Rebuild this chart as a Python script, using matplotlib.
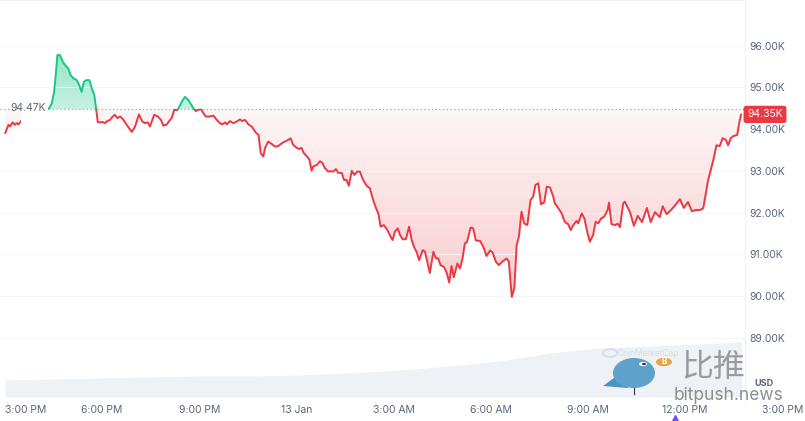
import numpy as np
import matplotlib
matplotlib.use("Agg")
import matplotlib.pyplot as plt
from matplotlib.patches import Rectangle, Ellipse, Circle, Polygon
from matplotlib.colors import to_rgb
from matplotlib.transforms import blended_transform_factory

# ---------------- data (hours since 12 Jan 00:00, price in USD) ----------------
times = [15.01,15.11,15.16,15.24,15.31,15.37,15.42,15.50,16.37,16.45,
         16.52,16.58,16.62,16.70,16.79,16.86,16.96,17.03,17.11,17.22,
         17.29,17.37,17.44,17.51,17.61,17.68,17.76,17.81,17.87,17.94,
         18.01,18.09,18.16,18.25,18.33,18.40,18.47,18.56,18.66,18.76,
         18.92,19.02,19.14,19.24,19.33,19.41,19.48,19.61,19.72,19.82,
         19.89,20.00,20.10,20.15,20.23,20.31,20.35,20.46,20.56,20.66,
         20.77,20.82,20.89,20.97,21.06,21.13,21.20,21.33,21.44,21.54,
         21.64,21.71,21.80,21.85,21.95,22.05,22.16,22.26,22.33,22.41,
         22.52,22.62,22.76,22.83,22.90,22.98,23.03,23.13,23.24,23.34,
         23.44,23.55,23.65,23.75,23.82,23.90,24.01,24.09,24.16,24.23,
         24.32,24.40,24.47,24.52,24.63,24.73,24.81,24.88,24.99,25.07,
         25.14,25.22,25.29,25.40,25.47,25.55,25.62,25.71,25.79,25.88,
         25.96,26.06,26.17,26.27,26.37,26.46,26.53,26.60,26.70,26.81,
         26.91,26.97,27.04,27.13,27.20,27.28,27.38,27.48,27.56,27.63,
         27.71,27.79,27.90,27.97,28.04,28.12,28.23,28.31,28.38,28.45,
         28.56,28.64,28.72,28.79,28.86,28.97,29.05,29.13,29.20,29.27,
         29.38,29.46,29.54,29.67,29.77,29.87,29.98,30.06,30.16,30.25,
         30.35,30.49,30.56,30.65,30.73,30.80,30.87,30.95,31.03,31.13,
         31.23,31.31,31.38,31.47,31.55,31.65,31.73,31.83,31.93,31.98,
         32.09,32.19,32.29,32.39,32.47,32.55,32.65,32.70,32.81,32.89,
         32.99,33.06,33.16,33.24,33.32,33.40,33.50,33.61,33.65,33.73,
         33.83,33.92,33.99,34.09,34.14,34.30,34.42,34.54,34.67,34.82,
         34.94,35.07,35.22,35.31,35.43,35.59,35.72,35.84,35.96,36.09,
         36.21,36.33,36.46,36.56,36.71,36.87,36.97,37.07,37.16,37.26,
         37.33,37.41,37.49,37.61,37.67,37.73]

prices = [93900,94100,94060,94160,94100,94140,94110,94190,94500,94620,
          94890,95370,95770,95770,95610,95530,95450,95290,95220,95170,
          95060,94890,95130,95170,95170,94980,94820,94530,94160,94160,
          94170,94140,94190,94220,94300,94340,94260,94300,94220,94100,
          93930,94060,94350,94180,94140,94160,94060,94340,94300,94220,
          94080,94110,94220,94260,94460,94450,94480,94650,94770,94700,
          94560,94500,94430,94460,94470,94380,94300,94300,94320,94220,
          94140,94110,94160,94110,94190,94140,94180,94230,94190,94220,
          94110,94060,93900,93860,93420,93340,93540,93700,93640,93580,
          93590,93660,93700,93740,93780,93620,93550,93520,93550,93420,
          93350,93270,93000,93100,93140,93230,93180,93060,92980,92990,
          92980,93040,92950,92950,92780,92780,92640,93000,92900,92980,
          92980,92780,92640,92580,92300,92100,91980,91660,91700,91580,
          91420,91340,91540,91620,91460,91360,91360,91660,91340,91180,
          91060,90860,91100,91060,90820,90550,91060,90900,90900,90740,
          90690,90560,90320,90720,90450,90780,90660,90900,91260,91300,
          91640,91620,91330,91320,91180,90960,91090,91040,90820,90740,
          90820,90900,90820,89980,90190,91220,91420,92020,91740,91700,
          92300,92380,92660,92700,92200,92240,92620,92600,92380,92220,
          92100,91980,91770,91720,91580,91700,91800,91740,91980,91860,
          91500,91300,91460,91780,91740,91850,91900,92060,92240,91720,
          91700,91730,91650,92220,92260,92010,91680,91920,91770,92110,
          91770,92010,91890,92150,91960,92080,92200,92320,92110,92250,
          92030,92060,92060,92100,92770,93250,93610,93590,93780,93740,
          93610,93780,93830,93860,94140,94350]

open_price = 94470
last_price = 94350

vol_times = [15.0, 16.4, 17.94, 19.48, 21.02, 22.57, 24.11, 25.65, 27.2,
             28.74, 30.28, 31.83, 33.37, 34.91, 36.46, 37.75]
vol_values = [17, 18, 19, 20, 21, 21, 22, 24, 27, 31, 36, 44, 49, 51, 53, 55]

y_ticks = [89000, 90000, 91000, 92000, 93000, 94000, 95000, 96000]
y_labels = ["89.00K", "90.00K", "91.00K", "92.00K", "93.00K", "94.00K", "95.00K", "96.00K"]
x_ticks = [15, 18, 21, 24, 27, 30, 33, 36, 39]
x_labels = ["3:00 PM", "6:00 PM", "9:00 PM", "13 Jan", "3:00 AM", "6:00 AM",
            "9:00 AM", "12:00 PM", "3:00 PM"]

# ---------------- style ----------------
RED = "#ea3943"
GREEN = "#16c784"
GREY = "#58667e"
FONT = ["Inter", "DejaVu Sans"]
plt.rcParams["font.family"] = FONT

t = np.array(times)
p = np.array(prices, dtype=float)

W, H = 805, 421
fig = plt.figure(figsize=(W / 100, H / 100), dpi=100)
fig.patch.set_facecolor("white")

ax_right_px = 745
ax_bottom_px = 400
ax = fig.add_axes([0, (H - ax_bottom_px) / H, ax_right_px / W, ax_bottom_px / H])
ax2 = fig.add_axes(ax.get_position(), sharex=ax)
ax2.set_zorder(1)
ax.set_zorder(2)
ax.patch.set_visible(False)

XMIN, XMAX = 14.85, 37.85
YMIN, YMAX = 87510, 97090

# volume area
ax2.fill_between(vol_times, 0, vol_values, color="#eef1f5", lw=0)
ax2.set_ylim(-3, 397)
ax2.axis("off")


def gradient_fill(x, ylow, yhigh, color, a_bottom, a_top, zorder):
    poly = ax.fill_between(x, ylow, yhigh, facecolor="none", edgecolor="none")
    path = poly.get_paths()[0]
    rgb = to_rgb(color)
    n = 256
    img = np.zeros((n, 1, 4))
    img[:, :, :3] = rgb
    img[:, 0, 3] = np.linspace(a_bottom, a_top, n)
    lo, hi = np.min(ylow), np.max(yhigh)
    im = ax.imshow(img, aspect="auto", origin="lower",
                   extent=[x.min(), x.max(), lo, hi], zorder=zorder,
                   interpolation="bilinear")
    im.set_clip_path(path, transform=ax.transData)


# red area below open, green above
gradient_fill(t, np.minimum(p, open_price), np.full_like(p, open_price), RED, 0.26, 0.05, 1)
gradient_fill(t, np.full_like(p, open_price), np.maximum(p, open_price), GREEN, 0.25, 0.45, 1)

# faint grid
for yv in y_ticks:
    ax.axhline(yv, color="#f4f5f7", lw=0.8, zorder=2)

# baseline
ax.axhline(open_price, color="#a3a8b0", lw=0.9, ls=(0, (1, 2)), zorder=3)

# split-colored line
lr, = ax.plot(t, p, color=RED, lw=1.4, zorder=5, solid_joinstyle="round", solid_capstyle="round")
lg, = ax.plot(t, p, color=GREEN, lw=1.4, zorder=5, solid_joinstyle="round", solid_capstyle="round")
clip_r = Rectangle((XMIN, YMIN), XMAX - XMIN, open_price - YMIN, transform=ax.transData)
clip_g = Rectangle((XMIN, open_price), XMAX - XMIN, YMAX - open_price, transform=ax.transData)
lr.set_clip_path(clip_r)
lg.set_clip_path(clip_g)

ax.set_xlim(XMIN, XMAX)
ax.set_ylim(YMIN, YMAX)

# open price label with white box
ax.add_patch(Rectangle((15.51, 94150), 16.33 - 15.51, 94760 - 94150,
                       facecolor="white", edgecolor="none", zorder=6))
ax.text(15.16, open_price + 30, "94.47K", color="#5f6672", fontsize=7.5,
        va="center", ha="left", zorder=7)

# y axis on right
ax.yaxis.tick_right()
ax.set_yticks(y_ticks)
ax.set_yticklabels(y_labels)
ax.tick_params(axis="y", length=0, pad=3, labelsize=7.5, labelcolor=GREY)
ax.set_xticks([])
for side in ["left", "bottom"]:
    ax.spines[side].set_visible(False)
ax.spines["right"].set_color("#f0f1f3")
ax.spines["top"].set_color("#f0f1f3")
ax.spines["right"].set_linewidth(0.8)
ax.spines["top"].set_linewidth(0.8)

# x labels
bt = blended_transform_factory(ax.transData, ax.transAxes)
for i, (xv, lab) in enumerate(zip(x_ticks, x_labels)):
    ha = "left" if i == 0 else "center"
    ax.text(xv, -0.025, lab, transform=bt, ha=ha, va="center", fontsize=7.5,
            color=GREY, clip_on=False)

# last price tag
ax.text(765 / 745, last_price, "94.35K", transform=blended_transform_factory(ax.transAxes, ax.transData),
        ha="center", va="center", color="white", fontsize=7.5, zorder=8, clip_on=False,
        bbox=dict(boxstyle="round,pad=0.35,rounding_size=0.25", facecolor=RED, edgecolor="none"))

# small event marker
ax.plot([35.7], [-0.045], marker="^", color="#6f4cff", ms=4, transform=bt, clip_on=False)

# USD label
fig.text(764 / W, 1 - 384 / H, "USD", ha="center", va="center", fontsize=6.5,
         color=GREY, fontweight="bold", zorder=12)

# ---------------- watermark ----------------
def fx(x):
    return x / W

def fy(y):
    return 1 - y / H

fig.text(fx(618), fy(353), "CoinMarketCap", fontsize=6, color="#d5dae2",
         ha="left", va="center", zorder=9)
fig.patches.append(Circle((fx(610), fy(353)), 0.009, transform=fig.transFigure,
                          facecolor="none", edgecolor="#d5dae2", lw=1.2, zorder=9))
fig.text(fx(713), fy(367), "比推", fontsize=23, color="#9b9b9b",
         family=["Noto Sans CJK SC", "DejaVu Sans"], ha="center", va="center",
         style="italic", zorder=10)
fig.text(fx(728), fy(396), "bitpush.news", fontsize=12.5, color="#8e8e8e",
         ha="center", va="center", zorder=10)
# bird
body = Ellipse((fx(634), fy(373)), 42 / W, 30 / H, angle=0, transform=fig.transFigure,
               facecolor="#5ea2cc", edgecolor="none", zorder=10)
tail = Polygon([(fx(603), fy(386)), (fx(622), fy(372)), (fx(628), fy(388))], closed=True,
               transform=fig.transFigure, facecolor="#4e93be", edgecolor="none", zorder=10)
eye = Circle((fx(643), fy(364)), 4 / W, transform=fig.transFigure,
             facecolor="white", edgecolor="none", zorder=11)
pupil = Circle((fx(644), fy(364)), 2 / W, transform=fig.transFigure,
               facecolor="#222222", edgecolor="none", zorder=12)
coin = Circle((fx(664), fy(362)), 8 / W, transform=fig.transFigure,
              facecolor="#f0a040", edgecolor="none", zorder=10)
for patch in [tail, body, eye, pupil, coin]:
    fig.patches.append(patch)
fig.text(fx(664), fy(362), "B", fontsize=6, color="white", ha="center", va="center",
         fontweight="bold", zorder=12)
fig.lines.append(plt.Line2D([fx(634), fx(634)], [fy(387), fy(394)], transform=fig.transFigure,
                            color="#333333", lw=0.8, zorder=10))

fig.savefig("out.png", dpi=100, facecolor="white")
